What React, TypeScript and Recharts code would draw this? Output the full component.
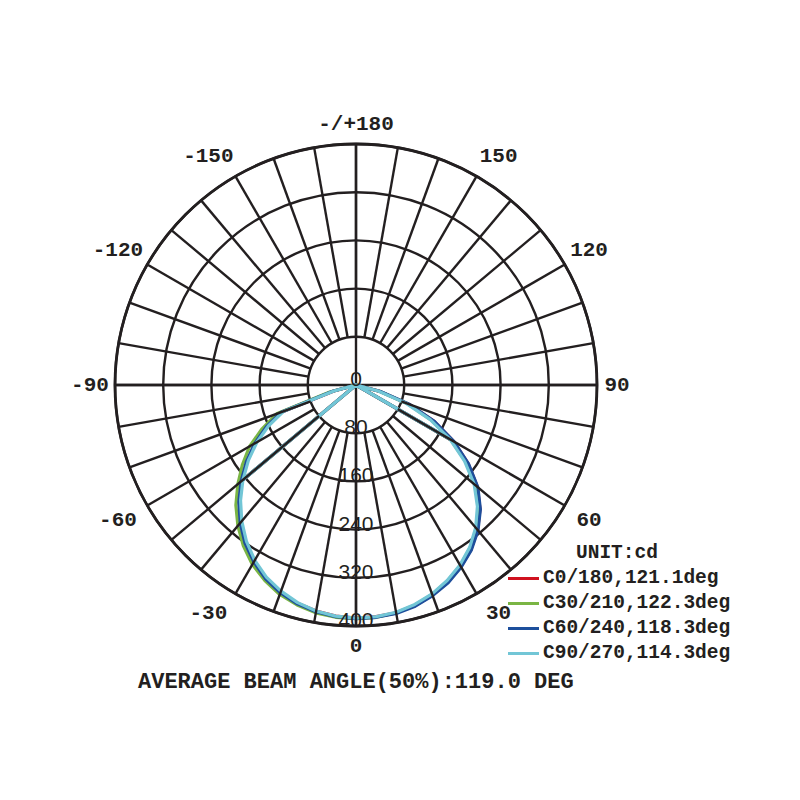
import React from 'react';
import {
  RadarChart,
  Radar,
  PolarGrid,
  PolarAngleAxis,
  PolarRadiusAxis,
  Legend,
} from 'recharts';

// gamma angles, -90 (left) .. 0 (down) .. 90 (right)
const ANGLES = [
  -90, -85, -80, -75, -70, -65, -60, -55, -50, -45, -40, -35, -30, -25, -20, -15, -10, -5,
  0, 5, 10, 15, 20, 25, 30, 35, 40, 45, 50, 55, 60, 65, 70, 75, 80, 85, 90,
];

// intensity in cd
const C0_180 = [
  0, 0, 0, 38, 131, 163, 193, 221, 248, 274, 298, 320, 339, 354, 366, 375, 381, 385,
  387, 386, 384, 379, 371, 361, 348, 333, 314, 291, 263, 227, 187, 143, 94, 41, 0, 0, 0,
];
const C30_210 = [
  0, 0, 0, 45, 140, 172, 204, 230, 256, 282, 305, 326, 344, 358, 370, 378, 384, 387,
  388, 387, 384, 378, 370, 359, 346, 330, 311, 287, 258, 222, 182, 138, 90, 40, 0, 0, 0,
];
const C60_240 = [
  0, 0, 0, 40, 132, 164, 194, 222, 249, 275, 299, 321, 339, 355, 367, 376, 382, 386,
  388, 387, 385, 380, 372, 362, 349, 334, 315, 292, 264, 228, 188, 144, 95, 42, 0, 0, 0,
];
const C90_270 = [
  0, 0, 0, 38, 128, 160, 190, 218, 245, 271, 295, 317, 336, 352, 364, 374, 381, 385,
  387, 386, 383, 377, 369, 358, 345, 329, 309, 285, 256, 220, 180, 136, 88, 38, 0, 0, 0,
];

const SERIES = [
  { key: 'c0', name: 'C0/180,121.1deg', values: C0_180, color: '#d0121f' },
  { key: 'c30', name: 'C30/210,122.3deg', values: C30_210, color: '#7ab544' },
  { key: 'c60', name: 'C60/240,118.3deg', values: C60_240, color: '#1d4f9c' },
  { key: 'c90', name: 'C90/270,114.3deg', values: C90_270, color: '#72c6d6' },
];

const ANGLE_TICKS = [-150, -120, -90, -60, -30, 0, 30, 60, 90, 120, 150, 180];
const SPOKE_TICKS = [
  -180, -170, -160, -150, -140, -130, -120, -110, -100, -90, -80, -70, -60, -50, -40, -30, -20, -10,
  0, 10, 20, 30, 40, 50, 60, 70, 80, 90, 100, 110, 120, 130, 140, 150, 160, 170, 180,
];
const RADIUS_TICKS = [0, 80, 160, 240, 320, 400];

// the drawn curve runs out from the centre along a spoke, round the lobe,
// back in along the other spoke and over the lobe again
const SPOKE_LEFT = ANGLES.indexOf(-50);
const SPOKE_RIGHT = ANGLES.indexOf(60);
const order: number[] = [SPOKE_LEFT];
ANGLES.forEach((_, i) => order.push(i));
for (let i = SPOKE_RIGHT; i >= SPOKE_LEFT; i--) order.push(i);

const data = order.map((i) => {
  const row: Record<string, number> = { angle: ANGLES[i] };
  SERIES.forEach((s) => {
    row[s.key] = s.values[i];
  });
  return row;
});

const INK = '#231f20';
const MONO = '"Liberation Mono", "Courier New", monospace';
const SANS = '"Liberation Sans", Arial, sans-serif';

const AngleTick = (props: any) => {
  const { x, y, payload } = props;
  const v = payload.value;
  const rad = (v * Math.PI) / 180;
  const s = Math.sin(rad);
  const c = Math.cos(rad);
  // side labels sit a little further out
  let dx = Math.sign(Math.round(s * 1000)) * 14 * Math.abs(c);
  if (v < 0) dx -= 5;
  const dy = Math.abs(s) > 0.01 ? 12 * c * s * s : 0;
  return (
    <text
      x={x + dx}
      y={y + dy}
      textAnchor="middle"
      dominantBaseline="central"
      fontFamily={MONO}
      fontWeight="bold"
      fontSize={21}
      fill={INK}
    >
      {v === 180 ? '-/+180' : String(v)}
    </text>
  );
};

const RadiusTick = (props: any) => {
  const { x, y, payload } = props;
  return (
    <text x={x} y={y} dy={1} textAnchor="middle" fontFamily={SANS} fontSize={21} fill={INK}>
      {payload.value}
    </text>
  );
};

const LegendBox = (props: any) => {
  const { payload } = props;
  return (
    <div style={{ fontFamily: MONO, fontWeight: 'bold', fontSize: 19.5, color: INK }}>
      <div style={{ paddingLeft: 68, height: 25, lineHeight: '25px' }}>UNIT:cd</div>
      {(payload || []).map((e: any) => (
        <div key={e.value} style={{ display: 'flex', alignItems: 'center', height: 25 }}>
          <span
            style={{ display: 'inline-block', width: 31, height: 3, background: e.color, marginRight: 4 }}
          />
          <span style={{ lineHeight: '25px' }}>{e.value}</span>
        </div>
      ))}
    </div>
  );
};

export default function App() {
  return (
    <div style={{ position: 'absolute', left: 0, top: 0, width: 800, height: 800, background: '#fff' }}>
      <RadarChart
        width={800}
        height={800}
        data={data}
        cx={356}
        cy={385}
        outerRadius={241}
        startAngle={90}
        endAngle={450}
        margin={{ top: 0, right: 0, bottom: 0, left: 0 }}
      >
        <PolarGrid
          gridType="circle"
          polarAngles={[0, 90, 180, 270]}
          stroke={INK}
          strokeWidth={2.4}
        />
        <PolarAngleAxis
          angleAxisId={1}
          dataKey="angle"
          type="number"
          domain={[-180, 180]}
          ticks={SPOKE_TICKS}
          tickCount={37}
          orientation="inner"
          tickSize={192.8}
          tick={false}
          axisLine={false}
          tickLine={{ stroke: INK, strokeWidth: 2.4 }}
          stroke={INK}
        />
        <PolarAngleAxis
          dataKey="angle"
          type="number"
          domain={[-180, 180]}
          ticks={ANGLE_TICKS}
          tickSize={20}
          tickLine={false}
          axisLineType="circle"
          axisLine={{ stroke: INK, strokeWidth: 2.8 }}
          tick={<AngleTick />}
        />
        <PolarRadiusAxis
          angle={-90}
          type="number"
          domain={[0, 400]}
          ticks={RADIUS_TICKS}
          axisLine={false}
          tickLine={false}
          tick={<RadiusTick />}
        />
        {SERIES.map((s) => (
          <Radar
            key={s.key}
            name={s.name}
            dataKey={s.key}
            stroke={s.color}
            strokeWidth={3.2}
            strokeLinejoin="round"
            fill="none"
            fillOpacity={0}
            dot={false}
            isAnimationActive={false}
          />
        ))}
        <Legend
          layout="vertical"
          align="right"
          verticalAlign="middle"
          content={<LegendBox />}
          wrapperStyle={{ left: 508, top: 541, right: 'auto', bottom: 'auto', width: 260 }}
        />
      </RadarChart>
      <div
        style={{
          position: 'absolute',
          left: 138,
          top: 672,
          fontFamily: MONO,
          fontWeight: 'bold',
          fontSize: 22,
          lineHeight: '22px',
          color: INK,
          whiteSpace: 'nowrap',
        }}
      >
        AVERAGE BEAM ANGLE(50%):119.0 DEG
      </div>
    </div>
  );
}
